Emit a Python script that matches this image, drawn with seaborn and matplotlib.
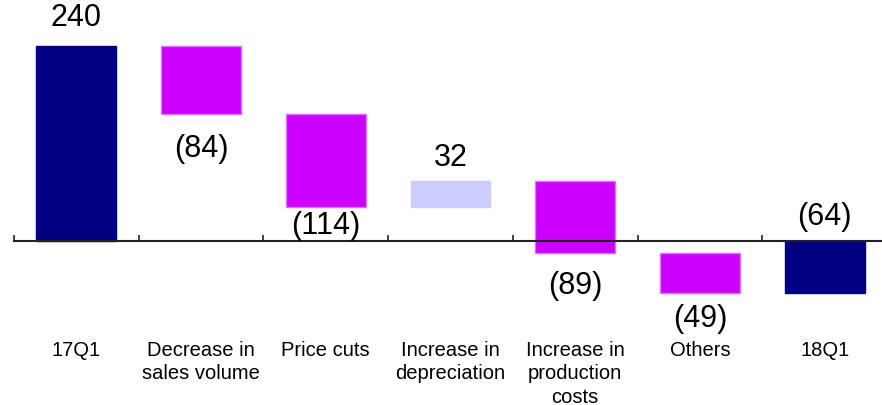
import numpy as np
import pandas as pd
import seaborn as sns
import matplotlib.pyplot as plt

# waterfall: 17Q1 -> 18Q1
categories = ["17Q1", "Decrease in\nsales volume", "Price cuts", "Increase in\ndepreciation",
              "Increase in\nproduction\ncosts", "Others", "18Q1"]
changes = [240, -84, -114, 32, -89, -49, -64]
kinds = ["total", "down", "down", "up", "down", "down", "total"]

colors = {"total": "#000080", "down": "#CC00FF", "up": "#CCCCFF"}
edges = {"total": "#000080", "down": "#E070FF", "up": "#CCCCFF"}
# label distance from bar edge, points
label_offset = [21, 24, 13, 17, 23, 18, 18]

# running totals
bottoms = []
heights = []
level = 0
for k, c in zip(kinds, changes):
    if k == "total":
        bottoms.append(0)
        heights.append(c)
        level = c
    else:
        bottoms.append(level)
        heights.append(c)
        level = level + c

df = pd.DataFrame({"cat": categories, "height": heights, "bottom": bottoms})

sns.set_style("white")
plt.rcParams["font.family"] = ["Liberation Sans", "DejaVu Sans"]

fig = plt.figure(figsize=(8.82, 4.06), dpi=100)
ax = fig.add_axes([14 / 882, 0, 873 / 882, 1])

sns.barplot(data=df, x="cat", y="height", bottom=df["bottom"].to_numpy(), width=0.64,
            color="#000080", linewidth=1, ax=ax)
for p, k in zip(ax.patches, kinds):
    p.set_facecolor(colors[k])
    p.set_edgecolor(edges[k])

ax.set_xlim(-0.5, 6.5)
ax.set_ylim(-201.8, 297.8)

for i, (b, h, c) in enumerate(zip(bottoms, heights, changes)):
    txt = str(c) if c > 0 else "(%d)" % abs(c)
    top = max(b, b + h)
    low = min(b, b + h)
    if kinds[i] == "up" or kinds[i] == "total":
        y, dy = top, label_offset[i]
    else:
        y, dy = low, -label_offset[i]
    ax.annotate(txt, (i, y), xytext=(0, dy), textcoords="offset points",
                ha="center", va="center", fontsize=22, color="black")

# axis at zero
for s in ["top", "right", "left"]:
    ax.spines[s].set_visible(False)
ax.spines["bottom"].set_position(("data", 0))
ax.spines["bottom"].set_color("#222222")
ax.spines["bottom"].set_linewidth(1.5)

ax.set_xticks(range(len(categories)))
ax.set_xticklabels(categories, fontsize=14.5, linespacing=1.3, color="black")
ax.set_xticks(np.arange(-0.5, len(categories)), minor=True)
ax.tick_params(axis="x", which="major", length=0, pad=71)
ax.tick_params(axis="x", which="minor", bottom=True, direction="in", length=4, width=1.2,
               color="#222222")
ax.set_yticks([])
ax.set_xlabel("")
ax.set_ylabel("")

fig.savefig("out.png", dpi=100)
